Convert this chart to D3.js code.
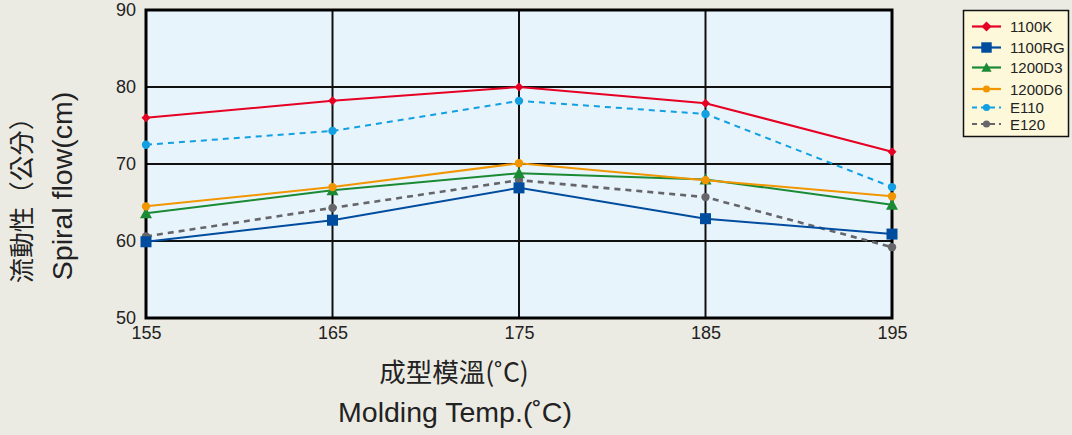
<!DOCTYPE html>
<html><head><meta charset="utf-8">
<script src="https://cdn.jsdelivr.net/npm/d3@7"></script>
<style>
html,body{margin:0;padding:0;background:#ecebe3;}
svg{display:block;font-family:"Liberation Sans",Arial,sans-serif;}
</style></head>
<body><svg id="c" width="1072" height="435"></svg>
<script>
const temps = [155, 165, 175, 185, 195];
const yTicks = [50, 60, 70, 80, 90];
const seriesNames = ["1100K", "1100RG", "1200D3", "1200D6", "E110", "E120"];
const s1100K  = [76.0, 78.2, 80.0, 77.9, 71.6];
const s1100RG = [59.9, 62.7, 66.9, 62.9, 60.9];
const s1200D3 = [63.6, 66.6, 68.8, 68.0, 64.7];
const s1200D6 = [64.5, 67.0, 70.1, 67.9, 65.8];
const sE110   = [72.5, 74.3, 78.2, 76.5, 67.0];
const sE120   = [60.6, 64.3, 67.9, 65.7, 59.2];
const colors  = ["#e60023", "#004c9f", "#1b8a35", "#f29600", "#12a0e3", "#65656a"];
const markers = ["diamond", "square", "triangle", "circle", "circle", "circle"];
const dashed  = [false, false, false, false, true, true];
const values  = [s1100K, s1100RG, s1200D3, s1200D6, sE110, sE120];

const svg = d3.select("#c");
const L = 146, R = 892, T = 10, B = 318;
const x = d3.scaleLinear().domain([155, 195]).range([L, R]);
const y = d3.scaleLinear().domain([50, 90]).range([B, T]);

svg.append("rect").attr("x", L).attr("y", T).attr("width", R - L).attr("height", B - T).attr("fill", "#e8f4fc");

// gridlines
svg.append("g").selectAll("line").data(yTicks).join("line")
  .attr("x1", L).attr("x2", R).attr("y1", d => y(d)).attr("y2", d => y(d))
  .attr("stroke", "#111").attr("stroke-width", 2);
svg.append("g").selectAll("line").data(temps).join("line")
  .attr("y1", T).attr("y2", B).attr("x1", d => x(d)).attr("x2", d => x(d))
  .attr("stroke", "#111").attr("stroke-width", 2);

// axes (labels only)
const yAxis = svg.append("g").attr("transform", `translate(${L},0)`)
  .call(d3.axisLeft(y).tickValues(yTicks).tickSize(0).tickPadding(10));
yAxis.select(".domain").remove();
yAxis.selectAll("text").attr("font-size", 18).attr("fill", "#222").attr("font-family", "Liberation Sans, Arial, sans-serif");
const xAxis = svg.append("g").attr("transform", `translate(0,${B})`)
  .call(d3.axisBottom(x).tickValues(temps).tickFormat(d3.format("d")).tickSize(0).tickPadding(8));
xAxis.select(".domain").remove();
xAxis.selectAll("text").attr("font-size", 18).attr("fill", "#222").attr("font-family", "Liberation Sans, Arial, sans-serif");

// frame
svg.append("rect").attr("x", L).attr("y", T).attr("width", R - L).attr("height", B - T)
  .attr("fill", "none").attr("stroke", "#000").attr("stroke-width", 3);

const line = d3.line().x((d, i) => x(temps[i])).y(d => y(d));

function drawMarker(g, type, cx, cy, color, s) {
  if (type === "diamond") {
    g.append("path").attr("d", `M${cx},${cy - 5*s}L${cx + 5*s},${cy}L${cx},${cy + 5*s}L${cx - 5*s},${cy}Z`).attr("fill", color);
  } else if (type === "square") {
    g.append("rect").attr("x", cx - 5.5*s).attr("y", cy - 5.5*s).attr("width", 11*s).attr("height", 11*s).attr("fill", color);
  } else if (type === "triangle") {
    g.append("path").attr("d", `M${cx},${cy - 6*s}L${cx + 6*s},${cy + 5*s}L${cx - 6*s},${cy + 5*s}Z`).attr("fill", color);
  } else {
    g.append("circle").attr("cx", cx).attr("cy", cy).attr("r", 4.2*s).attr("fill", color);
  }
}

const order = [5, 4, 0, 1, 2, 3];
order.forEach(k => {
  const g = svg.append("g");
  g.append("path").datum(values[k]).attr("d", line).attr("fill", "none")
    .attr("stroke", colors[k]).attr("stroke-width", dashed[k] ? (k === 5 ? 2.6 : 2) : 2)
    .attr("stroke-dasharray", dashed[k] ? "6,5" : null);
  values[k].forEach((v, i) => drawMarker(g, markers[k], x(temps[i]), y(v), colors[k], k === 0 ? 0.9 : 1));
});

// axis titles
svg.append("text").attr("x", 454).attr("y", 382).attr("text-anchor", "middle")
  .attr("font-size", 26.5).attr("fill", "#222").attr("font-family", "Noto Sans CJK TC, sans-serif").text("成型模溫(˚C)");
svg.append("text").attr("x", 455).attr("y", 422).attr("text-anchor", "middle")
  .attr("font-size", 28.5).attr("fill", "#222").text("Molding Temp.(˚C)");
svg.append("text").attr("transform", "translate(31,194) rotate(-90)").attr("text-anchor", "middle")
  .attr("font-size", 25.5).attr("fill", "#222").attr("font-family", "Noto Sans CJK TC, sans-serif").text("流動性（公分）");
svg.append("text").attr("transform", "translate(72,186) rotate(-90)").attr("text-anchor", "middle")
  .attr("font-size", 28.5).attr("fill", "#222").text("Spiral flow(cm)");

// legend
const lg = svg.append("g");
lg.append("rect").attr("x", 963.5).attr("y", 10.5).attr("width", 105).attr("height", 126)
  .attr("fill", "#fdf8da").attr("stroke", "#111").attr("stroke-width", 1.5);
const rowY = [26.5, 47.5, 67.5, 89, 107.5, 124];
seriesNames.forEach((n, k) => {
  const yy = rowY[k];
  lg.append("line").attr("x1", 972).attr("x2", 1001).attr("y1", yy).attr("y2", yy)
    .attr("stroke", colors[k]).attr("stroke-width", 2.2).attr("stroke-dasharray", dashed[k] ? "5,4" : null);
  drawMarker(lg, markers[k], 986.5, yy, colors[k], k === 0 ? 1 : (k === 1 ? 0.95 : 0.85));
  lg.append("text").attr("x", 1010).attr("y", yy + 5.5).attr("font-size", 15).attr("fill", "#222").text(n);
});
</script></body></html>
